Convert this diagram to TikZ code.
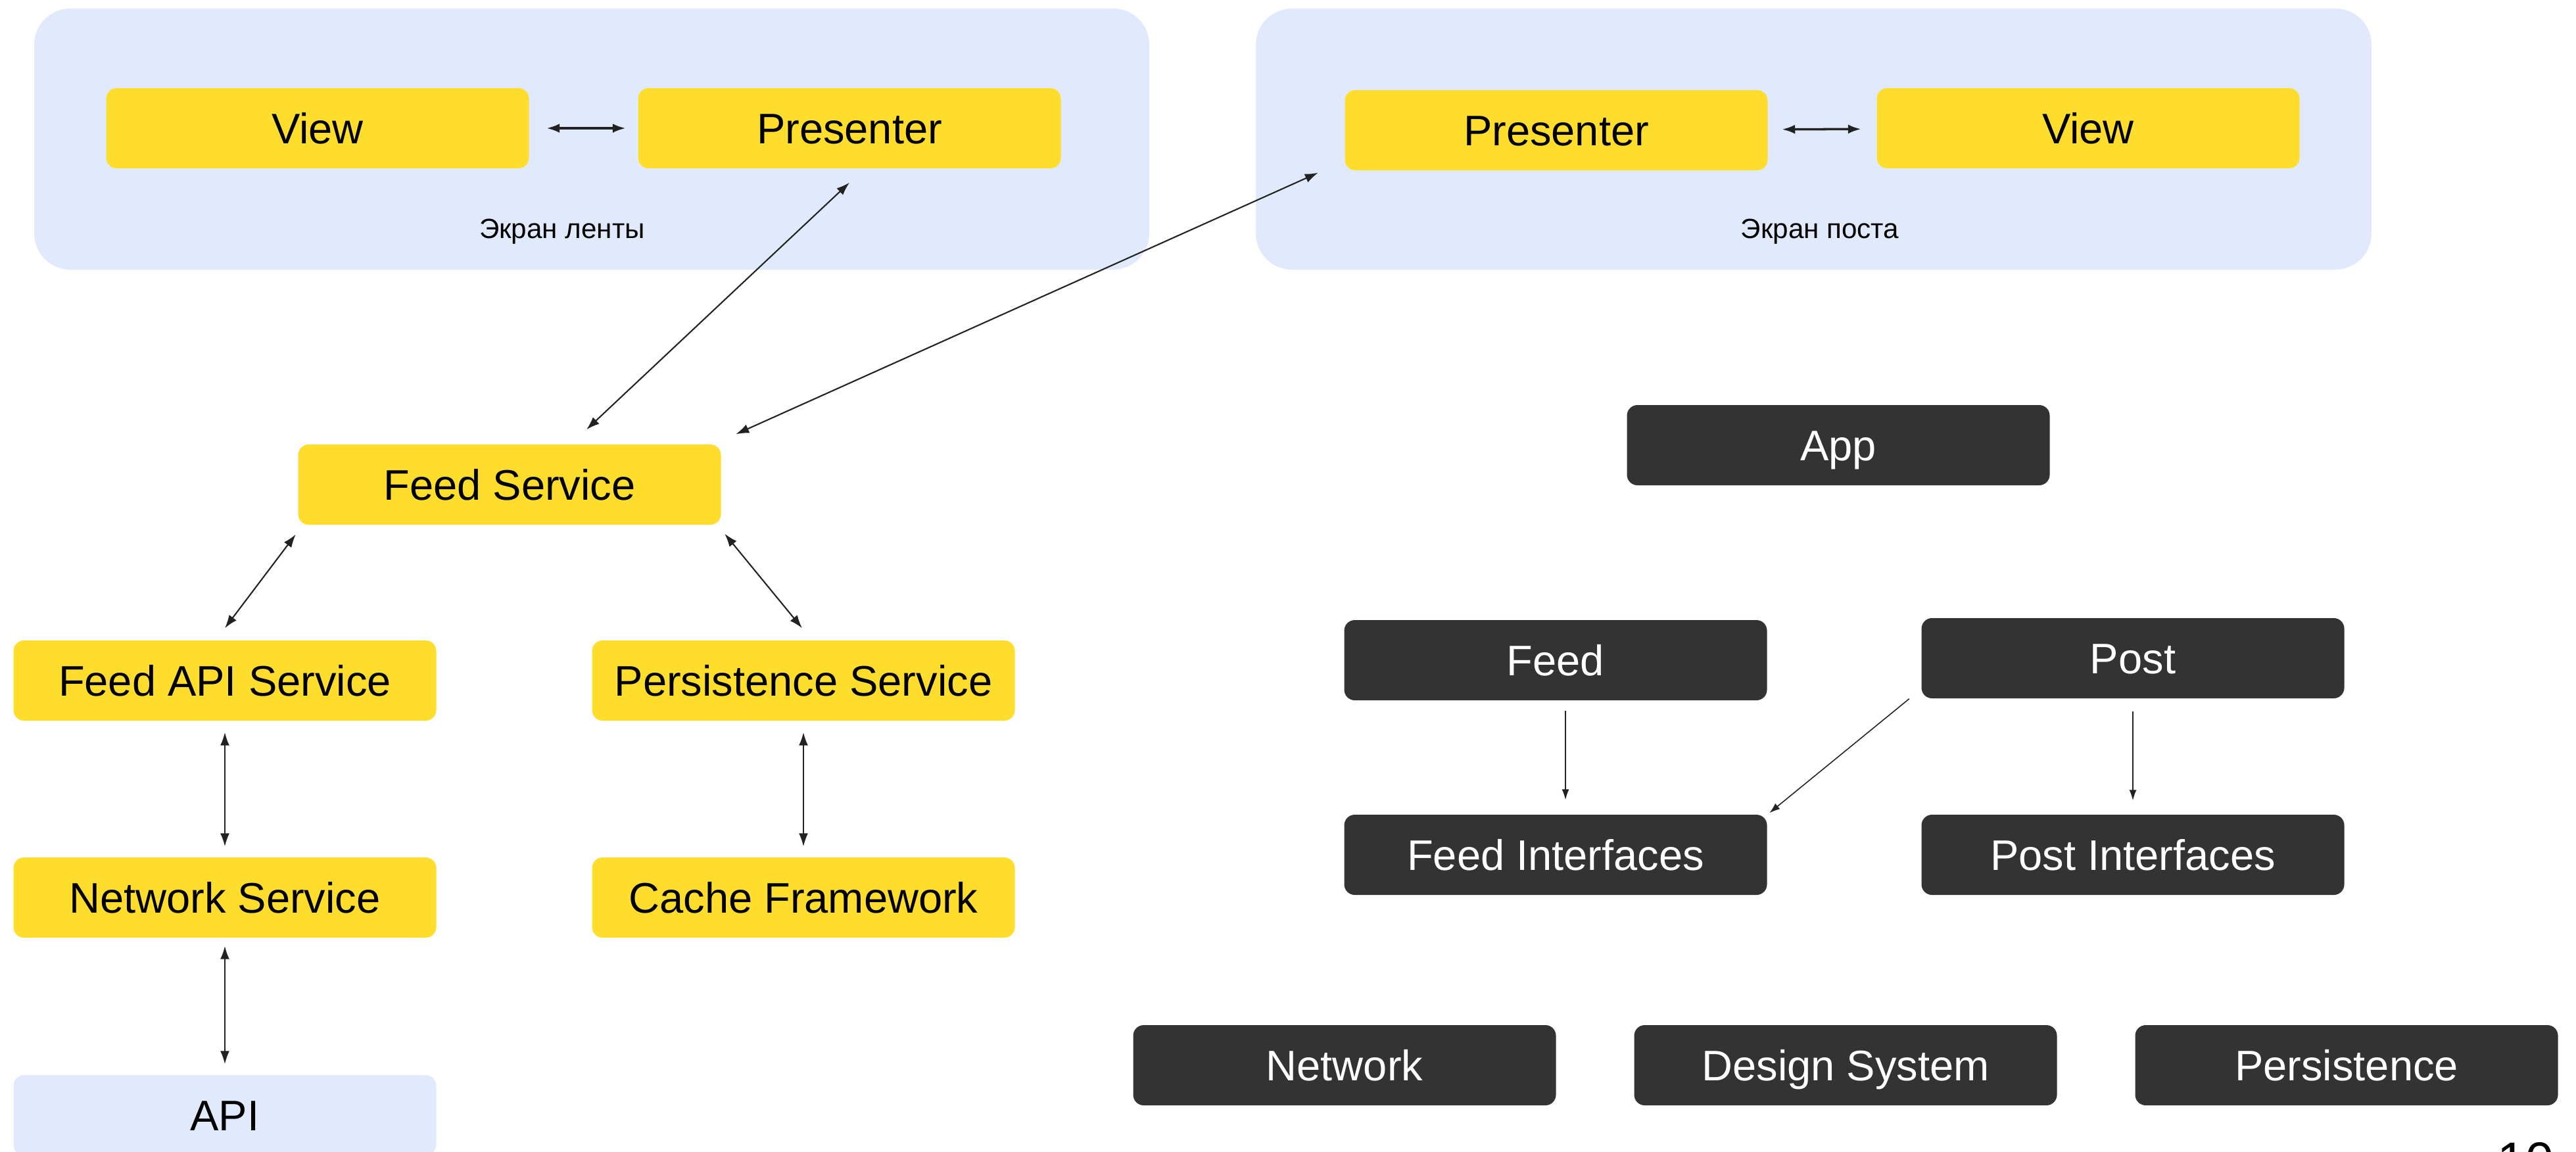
\documentclass[tikz,border=0pt]{standalone}
\usepackage{fontspec}
\setmainfont{Liberation Sans}
\usepackage{tikz}
\usetikzlibrary{arrows.meta,calc}
\definecolor{tyellow}{HTML}{FFDD2D}
\definecolor{tdark}{HTML}{333333}
\definecolor{tblue}{HTML}{E1EAFC}
\definecolor{tline}{HTML}{222222}

\begin{document}
\begin{tikzpicture}[
  box/.style={rounded corners=0.16cm, minimum width=6.43cm, minimum height=1.22cm, inner sep=0pt,
    text height=13.2pt, text depth=0pt, font=\fontsize{18.5}{22}\selectfont},
  ybox/.style={box, fill=tyellow, text=black},
  dbox/.style={box, fill=tdark, text=white},
  apibox/.style={box, fill=tblue, text=black},
  screen/.style={fill=tblue, rounded corners=0.55cm},
  caption/.style={inner sep=0pt, text height=8.6pt, text depth=0pt, font=\fontsize{12}{14}\selectfont},
  link/.style={draw=tline, line width=0.6pt, {Latex[length=2mm,width=1.4mm]}-{Latex[length=2mm,width=1.4mm]}},
  dep/.style={draw=tline, line width=0.45pt, -{Latex[length=1.6mm,width=1.1mm]}}
]
\useasboundingbox (0,0) rectangle (39.18,-17.51);
\clip (0,0) rectangle (39.18,-17.51);

\fill[screen] (0.52,-0.13) rectangle (17.48,-4.10);
\fill[screen] (19.10,-0.13) rectangle (36.07,-4.10);

\node[ybox] (vl) at (4.83,-1.95) {View};
\node[ybox] (pl) at (12.92,-1.95) {Presenter};
\node[caption] (sl) at (8.55,-3.47) {Экран ленты};
\node[ybox] (pr) at (23.67,-1.98) {Presenter};
\node[ybox] (vr) at (31.76,-1.95) {View};
\node[caption] (sr) at (27.68,-3.47) {Экран поста};

\node[ybox] (fs) at (7.75,-7.37) {Feed Service};
\node[ybox] (fa) at (3.42,-10.35) {Feed API Service};
\node[ybox] (ps) at (12.22,-10.35) {Persistence Service};
\node[ybox] (nw) at (3.42,-13.65) {Network Service};
\node[ybox] (cf) at (12.22,-13.65) {Cache Framework};
\node[apibox] (api) at (3.42,-16.96) {API};

\node[dbox] (app) at (27.96,-6.77) {App};
\node[dbox] (feed) at (23.66,-10.04) {Feed};
\node[dbox] (post) at (32.44,-10.01) {Post};
\node[dbox] (fi) at (23.66,-13.00) {Feed Interfaces};
\node[dbox] (pi) at (32.44,-13.00) {Post Interfaces};
\node[dbox] (net) at (20.45,-16.20) {Network};
\node[dbox] (ds) at (28.07,-16.20) {Design System};
\node[dbox] (pers) at (35.69,-16.20) {Persistence};

\node[anchor=north west, inner sep=0pt, font=\fontsize{22}{26}\selectfont] (page) at (37.98,-17.37) {10};

\draw[link, line width=1pt, shorten <=2.6mm, shorten >=1.8mm] (vl) -- (pl);
\draw[link, line width=1pt, shorten <=2.1mm, shorten >=2.3mm] (pr) -- (vr);
\draw[link] ($(fs.north)+(1.17,0.22)$) -- ($(pl.south)+(0,-0.21)$);
\draw[link] ($(fs.north east)+(0.22,0.15)$) -- ($(pr.south west)+(-0.40,-0.03)$);
\draw[link] ($(fs.south west)+(-0.03,-0.14)$) -- ($(fa.north)+(0,0.18)$);
\draw[link] ($(fs.south east)+(0.05,-0.13)$) -- ($(ps.north)+(-0.02,0.18)$);
\draw[link] ($(fa.south)+(0,-0.17)$) -- ($(nw.north)+(0,0.16)$);
\draw[link] ($(ps.south)+(0,-0.17)$) -- ($(cf.north)+(0,0.16)$);
\draw[link] ($(nw.south)+(0,-0.12)$) -- ($(api.north)+(0,0.16)$);

\draw[dep] ($(feed.south)+(0.15,-0.15)$) -- ($(fi.north)+(0.15,0.22)$);
\draw[dep] ($(post.south)+(0,-0.19)$) -- ($(pi.north)+(0,0.21)$);
\draw[dep] ($(post.south west)+(-0.18,0)$) -- ($(fi.north east)+(0.03,0.02)$);
\end{tikzpicture}
\end{document}
